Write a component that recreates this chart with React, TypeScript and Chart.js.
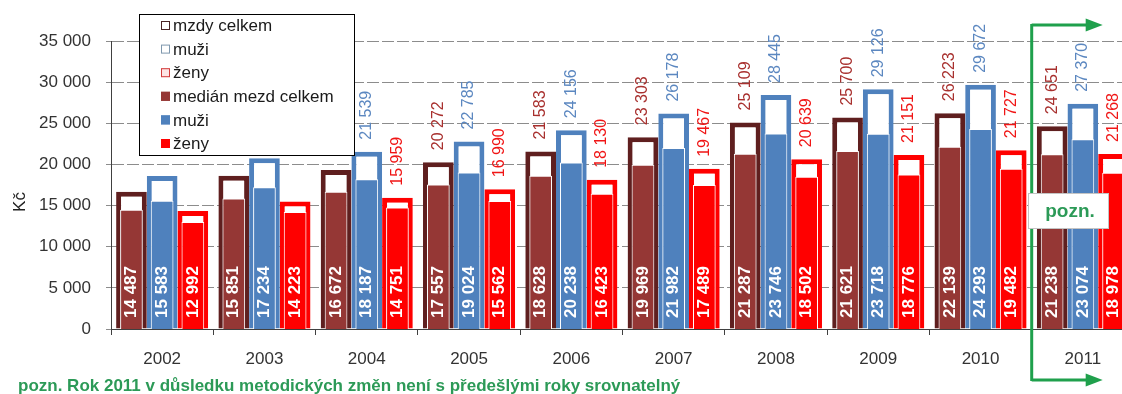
import React, { useEffect, useRef } from 'react';
import { Chart, registerables } from 'chart.js';

Chart.register(...registerables);

// ---------- data ----------
const years = ['2002', '2003', '2004', '2005', '2006', '2007', '2008', '2009', '2010', '2011'];

// average wages (outlined bars)
const avgTotal = [16690, 18630, 19320, 20272, 21583, 23303, 25109, 25700, 26223, 24651];
const avgMen = [18590, 20740, 21539, 22785, 24156, 26178, 28445, 29126, 29672, 27370];
const avgWomen = [14340, 15480, 15959, 16990, 18130, 19467, 20639, 21151, 21727, 21268];

// median wages (filled bars)
const medTotal = [14487, 15851, 16672, 17557, 18628, 19969, 21287, 21621, 22139, 21238];
const medMen = [15583, 17234, 18187, 19024, 20238, 21982, 23746, 23718, 24293, 23074];
const medWomen = [12992, 14223, 14751, 15562, 16423, 17489, 18502, 18776, 19482, 18978];

// first year index whose value label is printed above each outlined series (earlier ones sit under the legend)
const labelFrom = [3, 2, 2];

const seriesLabels = ['mzdy celkem', 'muži', 'ženy', 'medián mezd celkem', 'muži', 'ženy'];
const yAxisTitle = 'Kč';
const footnote = 'pozn. Rok 2011 v důsledku metodických změn není s předešlými roky srovnatelný';
const noteBoxText = 'pozn.';

// ---------- styles ----------
const FONT = "'Liberation Sans', Arial, sans-serif";
const DARK_OUT = '#5f1f1f';
const DARK_MED = '#953735';
const BLUE = '#4f81bd';
const RED = '#ff0000';
const GREEN_LINE = '#1fa04c';
const GREEN_TEXT = '#2c9a57';
const topLabelColors = ['#a8302e', '#5b87c0', '#f01515'];

const fmt = (n: number) => String(n).replace(/\B(?=(\d{3})+(?!\d))/g, ' ');

const overlayPlugin = {
  id: 'overlay',
  afterDatasetsDraw(chart: any) {
    const ctx = chart.ctx as CanvasRenderingContext2D;
    // labels above outlined bars
    for (let d = 0; d < 3; d++) {
      const meta = chart.getDatasetMeta(d);
      const data = chart.data.datasets[d].data as number[];
      meta.data.forEach((bar: any, i: number) => {
        if (i < labelFrom[d]) return;
        ctx.save();
        ctx.translate(bar.x, bar.y - 12);
        ctx.rotate(-Math.PI / 2);
        ctx.font = `16px ${FONT}`;
        ctx.fillStyle = topLabelColors[d];
        ctx.textAlign = 'left';
        ctx.textBaseline = 'middle';
        ctx.fillText(fmt(data[i]), 0, 0);
        ctx.restore();
      });
    }
    // labels inside median bars
    for (let d = 3; d < 6; d++) {
      const meta = chart.getDatasetMeta(d);
      const data = chart.data.datasets[d].data as number[];
      meta.data.forEach((bar: any, i: number) => {
        ctx.save();
        ctx.translate(bar.x, bar.base - 11);
        ctx.rotate(-Math.PI / 2);
        ctx.font = `bold 17px ${FONT}`;
        ctx.fillStyle = '#ffffff';
        ctx.textAlign = 'left';
        ctx.textBaseline = 'middle';
        ctx.fillText(fmt(data[i]), 0, 0);
        ctx.restore();
      });
    }
  },
  afterDraw(chart: any) {
    const ctx = chart.ctx as CanvasRenderingContext2D;
    const xs = chart.scales.x;

    // y axis title
    ctx.save();
    ctx.translate(20, 202);
    ctx.rotate(-Math.PI / 2);
    ctx.font = `17px ${FONT}`;
    ctx.fillStyle = '#222';
    ctx.textAlign = 'center';
    ctx.textBaseline = 'middle';
    ctx.fillText(yAxisTitle, 0, 0);
    ctx.restore();

    // legend
    ctx.save();
    ctx.fillStyle = '#ffffff';
    ctx.fillRect(139.5, 14.5, 215, 141);
    ctx.strokeStyle = '#000';
    ctx.lineWidth = 1;
    ctx.strokeRect(139.5, 14.5, 215, 141);
    const markers = [
      { fill: '#ffffff', stroke: '#4a2424' },
      { fill: '#ffffff', stroke: '#7f98ae' },
      { fill: '#fde4e4', stroke: '#d23a3a' },
      { fill: DARK_MED, stroke: DARK_MED },
      { fill: BLUE, stroke: BLUE },
      { fill: RED, stroke: RED },
    ];
    seriesLabels.forEach((lbl, i) => {
      const cy = 25.5 + i * 23.6;
      const m = markers[i];
      ctx.fillStyle = m.fill;
      ctx.fillRect(161, cy - 4.5, 9, 9);
      ctx.strokeStyle = m.stroke;
      ctx.strokeRect(161.5, cy - 4, 8, 8);
      ctx.fillStyle = '#1a1a1a';
      ctx.font = `17px ${FONT}`;
      ctx.textAlign = 'left';
      ctx.textBaseline = 'middle';
      ctx.fillText(lbl, 173, cy + 1);
    });
    ctx.restore();

    // green divider with arrows
    const gx = (xs.getPixelForValue(8) + xs.getPixelForValue(9)) / 2;
    ctx.save();
    ctx.strokeStyle = GREEN_LINE;
    ctx.fillStyle = GREEN_LINE;
    ctx.lineWidth = 3;
    ctx.beginPath();
    ctx.moveTo(gx, 24);
    ctx.lineTo(gx, 381);
    ctx.stroke();
    [25, 380].forEach((y) => {
      ctx.beginPath();
      ctx.moveTo(gx, y);
      ctx.lineTo(gx + 56, y);
      ctx.stroke();
      ctx.beginPath();
      ctx.moveTo(gx + 54, y - 6.5);
      ctx.lineTo(gx + 71, y);
      ctx.lineTo(gx + 54, y + 6.5);
      ctx.closePath();
      ctx.fill();
    });
    // note box
    ctx.fillStyle = '#ffffff';
    ctx.fillRect(1028, 193, 81, 36);
    ctx.strokeStyle = '#c4c4c4';
    ctx.lineWidth = 1;
    ctx.strokeRect(1028.5, 193.5, 80, 35);
    ctx.fillStyle = GREEN_TEXT;
    ctx.font = `bold 19px ${FONT}`;
    ctx.textAlign = 'center';
    ctx.textBaseline = 'middle';
    ctx.fillText(noteBoxText, 1070, 212);
    ctx.restore();

    // footnote
    ctx.save();
    ctx.fillStyle = GREEN_TEXT;
    ctx.font = `bold 17px ${FONT}`;
    ctx.textAlign = 'left';
    ctx.textBaseline = 'alphabetic';
    ctx.fillText(footnote, 18, 391);
    ctx.restore();
  },
};

export default function App() {
  const ref = useRef<HTMLCanvasElement | null>(null);

  useEffect(() => {
    if (!ref.current) return;
    // each outlined bar and its median share one slot (same stack id) but sit on separate value axes
    const outline = (label: string, data: number[], color: string, stack: string) => ({
      label,
      data,
      stack,
      yAxisID: 'y',
      backgroundColor: '#ffffff',
      borderColor: color,
      borderWidth: 5,
      borderSkipped: 'bottom' as const,
      barPercentage: 1.0,
      categoryPercentage: 0.9,
      order: 2,
    });
    const filled = (label: string, data: number[], color: string, stack: string) => ({
      label,
      data,
      stack,
      yAxisID: 'y2',
      backgroundColor: color,
      borderColor: '#ffffff',
      borderWidth: 1,
      borderSkipped: 'bottom' as const,
      barPercentage: 0.74,
      categoryPercentage: 0.9,
      order: 1,
    });

    const chart = new Chart(ref.current, {
      type: 'bar',
      data: {
        labels: years,
        datasets: [
          outline(seriesLabels[0], avgTotal, DARK_OUT, 's0'),
          outline(seriesLabels[1], avgMen, BLUE, 's1'),
          outline(seriesLabels[2], avgWomen, RED, 's2'),
          filled(seriesLabels[3], medTotal, DARK_MED, 's0'),
          filled(seriesLabels[4], medMen, BLUE, 's1'),
          filled(seriesLabels[5], medWomen, RED, 's2'),
        ] as any,
      },
      options: {
        responsive: false,
        animation: false,
        layout: { padding: { left: 8, top: 41, right: 6, bottom: 0 } },
        plugins: { legend: { display: false }, tooltip: { enabled: false } },
        scales: {
          x: {
            type: 'category',
            offset: true,
            grid: { offset: true, drawOnChartArea: false, drawTicks: true, tickLength: 6, color: '#404040' },
            border: { color: '#404040', width: 1 },
            ticks: { color: '#333', font: { size: 17, family: FONT }, padding: 14, maxRotation: 0, autoSkip: false },
            afterFit: (s: any) => { s.height = 65; },
          },
          y: {
            min: 0,
            max: 35000,
            ticks: {
              stepSize: 5000,
              color: '#333',
              font: { size: 17, family: FONT },
              padding: 15,
              callback: (v: any) => fmt(Number(v)),
            },
            grid: { color: '#8c8c8c', tickLength: 5, drawTicks: true },
            border: { dash: [12, 3], color: '#404040' },
            afterFit: (s: any) => { s.width = 103; },
          },
          y2: {
            min: 0,
            max: 35000,
            display: false,
          },
        } as any,
      },
      plugins: [overlayPlugin],
    });
    return () => chart.destroy();
  }, []);

  return (
    <div style={{ position: 'absolute', left: 0, top: 0, width: 1122, height: 394, overflow: 'hidden', background: '#fff' }}>
      <canvas ref={ref} width={1140} height={394} style={{ display: 'block', width: 1140, height: 394 }} />
    </div>
  );
}
